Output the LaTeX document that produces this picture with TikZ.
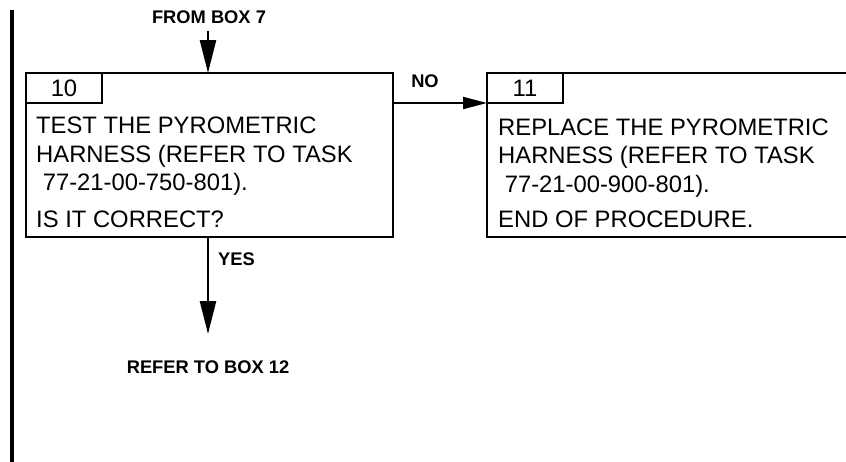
\documentclass[tikz,border=0pt]{standalone}
\usepackage{fontspec}
\setmainfont{Liberation Sans}
\usetikzlibrary{arrows.meta}
\tikzset{
  frame/.style={draw, line width=2pt, rectangle, inner sep=0pt, outer sep=0pt, anchor=north west},
  numbox/.style={frame, minimum width=76pt, minimum height=30pt, font=\fontsize{23.8}{28}\selectfont},
  body/.style={anchor=base west, inner sep=0pt, font=\fontsize{23.8}{28}\selectfont},
  tag/.style={inner sep=0pt, font=\fontsize{18.3}{20}\selectfont\bfseries},
  flow/.style={line width=2.5pt, -{Triangle[length=33pt,width=16pt]}},
  flowsmall/.style={line width=2pt, -{Triangle[length=24pt,width=12pt]}}
}
\begin{document}
\begin{tikzpicture}[x=1pt,y=-1pt]
\path[use as bounding box, clip] (0,0) rectangle (846,461);
\fill[white] (0,0) rectangle (846,461);

% margin bar
\draw[line width=4pt] (11.5,10) -- (11.5,470);

% box 10
\node[frame, minimum width=367pt, minimum height=164pt] (b10) at (26,73) {};
\node[numbox] (n10) at (26,73) {10};
\node[body] (t10a) at (36,133) {TEST THE PYROMETRIC};
\node[body] (t10b) at (36,162) {HARNESS (REFER TO TASK};
\node[body] (t10c) at (36,190) {\ 77-21-00-750-801).};
\node[body] (t10d) at (36,227) {IS IT CORRECT?};

% box 11
\node[frame, minimum width=390pt, minimum height=164pt] (b11) at (487,73) {};
\node[numbox] (n11) at (487,73) {11};
\node[body] (t11a) at (498,135) {REPLACE THE PYROMETRIC};
\node[body] (t11b) at (498,163) {HARNESS (REFER TO TASK};
\node[body] (t11c) at (498,192) {\ 77-21-00-900-801).};
\node[body] (t11d) at (498,227) {END OF PROCEDURE.};

% incoming connector
\node[tag, anchor=base] (from) at (209,23) {FROM BOX 7};
\coordinate (fromend) at (208,31);
\draw[flow] (fromend) -- (fromend |- b10.north);

% NO branch
\node[tag, anchor=base] (no) at (425,87) {NO};
\draw[flowsmall] (b10.east |- n11.south) -- (n11.south west);

% YES branch
\coordinate (yesend) at (208,334);
\draw[flow] (yesend |- b10.south) -- (yesend);
\node[tag, anchor=base west] (yes) at (218,265) {YES};
\node[tag, anchor=base] (box12) at (208,373) {REFER TO BOX 12};
\end{tikzpicture}
\end{document}
